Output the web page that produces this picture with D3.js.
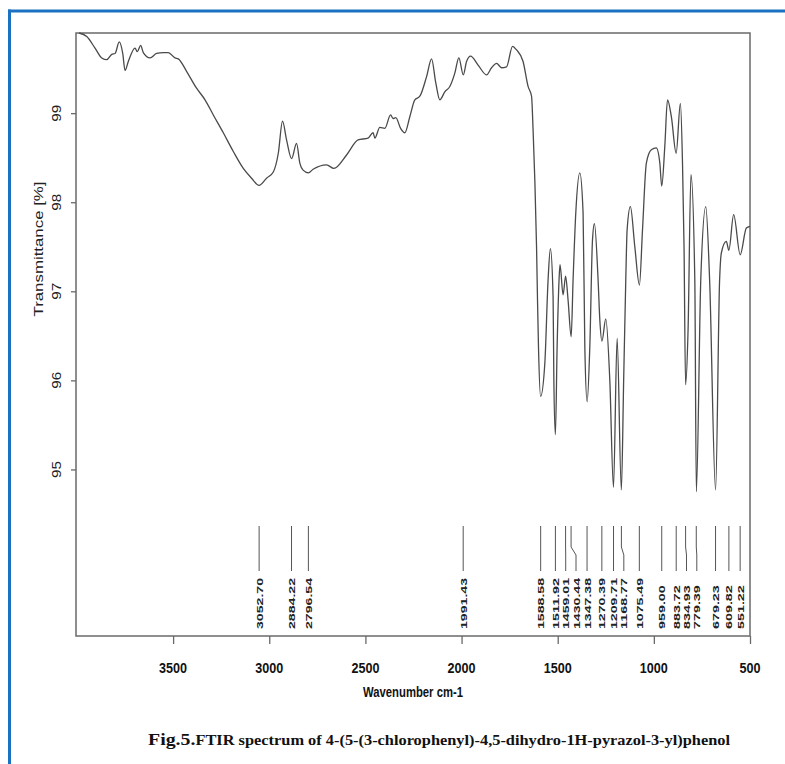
<!DOCTYPE html>
<html>
<head>
<meta charset="utf-8">
<script src="https://cdn.jsdelivr.net/npm/d3@7"></script>
<style>
  html, body { margin: 0; padding: 0; background: #fff; }
  svg { display: block; }
</style>
</head>
<body>
<div id="chart"></div>
<script>
// ---------------- DATA ----------------
const wavenumber = [3989, 3949, 3906, 3871, 3845, 3819, 3802, 3780, 3762, 3750, 3733, 3698, 3686, 3669, 3655,
  3620, 3586, 3551, 3525, 3490, 3473, 3430, 3378, 3334, 3291, 3239, 3187, 3135, 3092, 3053,
  3014, 2979, 2953, 2931, 2910, 2884, 2858, 2841, 2824, 2797, 2772, 2702, 2664, 2598, 2538,
  2486, 2460, 2451, 2425, 2399, 2369, 2356, 2342, 2317, 2295, 2269, 2243, 2217, 2182, 2156,
  2134, 2113, 2087, 2061, 2035, 2014, 1991, 1974, 1953, 1914, 1870, 1844, 1818, 1792, 1766,
  1735, 1714, 1680, 1654, 1636, 1628, 1619, 1610, 1605, 1600, 1589, 1567, 1550, 1538, 1524,
  1520, 1512, 1503, 1493, 1488, 1472, 1459, 1446, 1430, 1420, 1406, 1385, 1368, 1359, 1347,
  1333, 1319, 1309, 1290, 1281, 1270, 1250, 1229, 1210, 1191, 1169, 1157, 1146, 1139, 1122,
  1099, 1075, 1059, 1039, 1013, 987, 969, 959, 943, 929, 909, 884, 862, 851, 843,
  835, 822, 807, 787, 779, 756, 730, 710, 679, 658, 649, 623, 610, 585, 551, 519, 500];
const transmittance = [99.90, 99.86, 99.73, 99.62, 99.60, 99.66, 99.67, 99.80, 99.67, 99.48, 99.58, 99.73, 99.69, 99.76, 99.68,
  99.62, 99.67, 99.68, 99.68, 99.62, 99.61, 99.47, 99.28, 99.15, 98.98, 98.78, 98.57, 98.38, 98.27, 98.19,
  98.27, 98.34, 98.55, 98.91, 98.70, 98.49, 98.66, 98.44, 98.36, 98.33, 98.37, 98.42, 98.38, 98.53, 98.70,
  98.72, 98.78, 98.72, 98.84, 98.83, 98.98, 98.94, 98.95, 98.83, 98.78, 98.96, 99.15, 99.19, 99.41, 99.61,
  99.34, 99.15, 99.24, 99.30, 99.45, 99.62, 99.43, 99.58, 99.64, 99.54, 99.43, 99.51, 99.56, 99.51, 99.52,
  99.75, 99.71, 99.58, 99.30, 99.19, 98.81, 98.25, 97.50, 96.90, 96.38, 95.82, 96.19, 97.13, 97.48, 96.94,
  96.00, 95.39, 96.38, 97.13, 97.30, 96.96, 97.17, 96.90, 96.49, 97.13, 97.88, 98.33, 97.88, 96.38, 95.76,
  96.38, 97.58, 97.76, 97.13, 96.68, 96.44, 96.69, 96.00, 94.80, 96.47, 94.77, 96.00, 97.13, 97.69, 97.95,
  97.50, 97.07, 97.69, 98.44, 98.59, 98.61, 98.44, 98.18, 98.63, 99.15, 98.96, 98.55, 99.11, 98.44, 97.50,
  95.95, 96.57, 98.31, 97.13, 94.75, 97.13, 97.95, 97.13, 94.77, 97.13, 97.43, 97.56, 97.46, 97.86, 97.41, 97.71, 97.73];

const yTicks = [95, 96, 97, 98, 99];
const xTicks = [3500, 3000, 2500, 2000, 1500, 1000, 500];
const peakLabels = ["3052.70", "2884.22", "2796.54", "1991.43", "1588.58", "1511.92", "1459.01", "1430.44",
  "1347.38", "1270.39", "1209.71", "1168.77", "1075.49", "959.00", "883.72", "834.93", "779.39",
  "679.23", "609.82", "551.22"];

const xLabel = "Wavenumber cm-1";
const yLabel = "Transmittance [%]";
const titleBold = "Fig.5.";
const titleRest = "FTIR spectrum of 4-(5-(3-chlorophenyl)-4,5-dihydro-1H-pyrazol-3-yl)phenol";

// ---------------- LAYOUT ----------------
const W = 785, H = 764;
const plot = { left: 76, right: 750, top: 33, bottom: 636 };

const svg = d3.select("#chart").append("svg").attr("width", W).attr("height", H);

// blue frame
svg.append("line").attr("x1", 8).attr("x2", W).attr("y1", 11).attr("y2", 11)
  .attr("stroke", "#1b72c2").attr("stroke-width", 3);
svg.append("line").attr("x1", 9.5).attr("x2", 9.5).attr("y1", 9.5).attr("y2", H)
  .attr("stroke", "#1b72c2").attr("stroke-width", 3);

const x = d3.scaleLinear().domain([4005, 500]).range([plot.left, plot.right]);
const y = d3.scaleLinear().domain([93.13, 99.9]).range([plot.bottom, plot.top]);

const axisColor = "#6a6a6a";

// box
svg.append("rect")
  .attr("x", plot.left).attr("y", plot.top)
  .attr("width", plot.right - plot.left).attr("height", plot.bottom - plot.top)
  .attr("fill", "none").attr("stroke", axisColor).attr("stroke-width", 1.5);

// x axis
const gx = svg.append("g").attr("transform", `translate(0,${plot.bottom})`)
  .call(d3.axisBottom(x).tickValues(xTicks).tickSize(8).tickFormat(""));
gx.select(".domain").remove();
gx.selectAll(".tick line").attr("stroke", axisColor).attr("stroke-width", 1.3);
xTicks.forEach(t => {
  const s = String(t);
  svg.append("text")
    .attr("x", x(t)).attr("y", 673)
    .attr("text-anchor", "middle")
    .attr("font-family", "'Liberation Sans Narrow', 'Arial Narrow', 'Liberation Sans', Arial, sans-serif")
    .attr("font-size", 14).attr("font-weight", "bold").attr("fill", "#111")
    .attr("textLength", s.length * 7).attr("lengthAdjust", "spacingAndGlyphs")
    .text(s);
});

// y axis
const gy = svg.append("g").attr("transform", `translate(${plot.left},0)`)
  .call(d3.axisLeft(y).tickValues(yTicks).tickSize(5).tickFormat(""));
gy.select(".domain").remove();
gy.selectAll(".tick line").attr("stroke", axisColor).attr("stroke-width", 1.3);
yTicks.forEach(t => {
  svg.append("text")
    .attr("transform", `translate(61,${y(t)}) rotate(-90)`)
    .attr("text-anchor", "middle")
    .attr("font-family", "'Liberation Sans', Arial, sans-serif")
    .attr("font-size", 12.5).attr("fill", "#222")
    .attr("textLength", 17).attr("lengthAdjust", "spacingAndGlyphs")
    .text(t);
});

// axis titles
svg.append("text")
  .attr("transform", `translate(43,249) rotate(-90)`)
  .attr("text-anchor", "middle")
  .attr("font-family", "'Liberation Sans', Arial, sans-serif")
  .attr("font-size", 13.5).attr("fill", "#222")
  .attr("textLength", 135).attr("lengthAdjust", "spacingAndGlyphs")
  .text(yLabel);

svg.append("text")
  .attr("x", (plot.left + plot.right) / 2).attr("y", 697)
  .attr("text-anchor", "middle")
  .attr("font-family", "'Liberation Sans Narrow', 'Arial Narrow', 'Liberation Sans', Arial, sans-serif")
  .attr("font-size", 14).attr("font-weight", "bold").attr("fill", "#111")
  .attr("textLength", 100).attr("lengthAdjust", "spacingAndGlyphs")
  .text(xLabel);

// title
const title = svg.append("text")
  .attr("x", 148).attr("y", 745)
  .attr("font-family", "'Liberation Serif', 'Times New Roman', serif")
  .attr("font-weight", "bold").attr("fill", "#111")
  .attr("textLength", 582).attr("lengthAdjust", "spacingAndGlyphs");
title.append("tspan").attr("font-size", 17).text(titleBold);
title.append("tspan").attr("font-size", 14).text(titleRest);

// spectrum
const pts = wavenumber.map((w, i) => [w, transmittance[i]]);
const line = d3.line().x(d => x(d[0])).y(d => y(d[1])).curve(d3.curveMonotoneX);
svg.append("path").datum(pts)
  .attr("d", line)
  .attr("fill", "none").attr("stroke", "#4a4a4a").attr("stroke-width", 1.3)
  .attr("stroke-linejoin", "round");

// peak labels with repel
const peaks = peakLabels.map(s => ({ label: s, v: +s, px: x(+s) }));
peaks.sort((a, b) => a.px - b.px);
const minGap = 10.3;
peaks.forEach((p, i) => {
  p.lx = p.px;
  if (i > 0 && p.lx < peaks[i - 1].lx + minGap) p.lx = peaks[i - 1].lx + minGap;
});
const lineTop = 526, bendStart = 547, bendEnd = 555, lineBottom = 571, textBase = 629;
const pg = svg.append("g");
peaks.forEach(p => {
  pg.append("path")
    .attr("d", `M${p.px},${lineTop}V${bendStart}L${p.lx},${bendEnd}V${lineBottom}`)
    .attr("fill", "none").attr("stroke", "#555").attr("stroke-width", 1);
  pg.append("text")
    .attr("transform", `translate(${p.lx + 3.5},${textBase}) rotate(-90)`)
    .attr("font-family", "'Liberation Sans', Arial, sans-serif")
    .attr("font-size", 9.5).attr("font-weight", "bold").attr("fill", "#222")
    .attr("textLength", p.label.length * 7.3).attr("lengthAdjust", "spacingAndGlyphs")
    .text(p.label);
});
</script>
</body>
</html>
